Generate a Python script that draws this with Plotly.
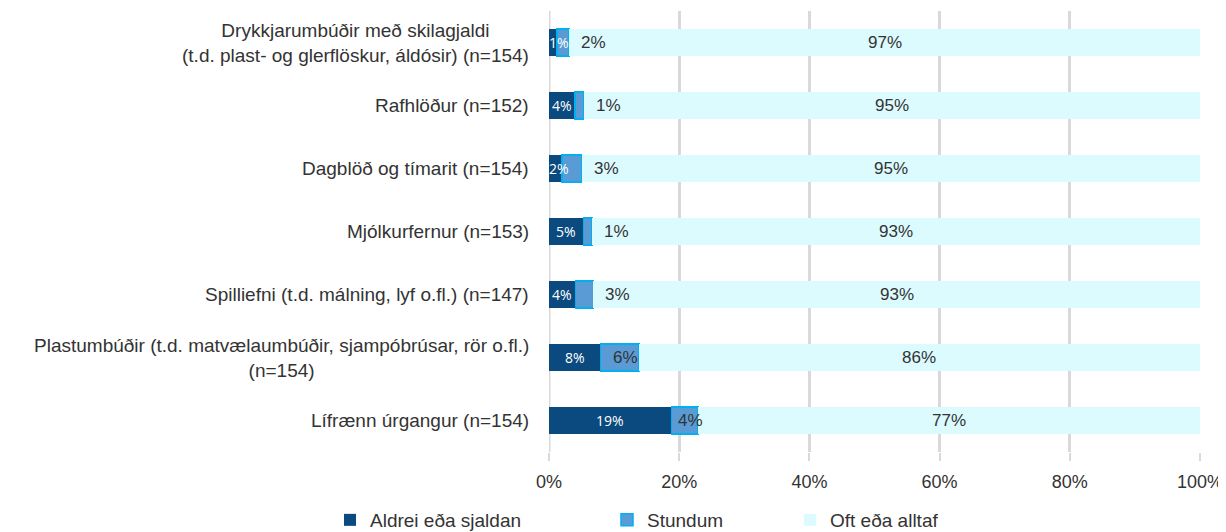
import plotly.graph_objects as go

categories = [
    "Drykkjarumbúðir með skilagjaldi<br>(t.d. plast- og glerflöskur, áldósir) (n=154)",
    "Rafhlöður (n=152)",
    "Dagblöð og tímarit (n=154)",
    "Mjólkurfernur (n=153)",
    "Spilliefni (t.d. málning, lyf o.fl.) (n=147)",
    "Plastumbúðir (t.d. matvælaumbúðir, sjampóbrúsar, rör o.fl.)<br>(n=154)",
    "Lífrænn úrgangur (n=154)",
]
aldrei = [1.2, 4.0, 2.0, 5.3, 4.1, 7.9, 18.8]
stundum = [1.9, 1.3, 3.0, 1.3, 2.7, 5.9, 4.1]
oft = [96.9, 94.7, 95.0, 93.4, 93.2, 86.2, 77.1]
series_names = ["Aldrei eða sjaldan", "Stundum", "Oft eða alltaf"]
tick_vals = [0, 20, 40, 60, 80, 100]
tick_text = ["0%", "20%", "40%", "60%", "80%", "100%"]

NAVY = "#0b4a7e"
MID = "#5b9bd5"
MID_LINE = "#00b0f0"
LIGHT = "#dcfbff"
FONT = "Liberation Sans Narrow, Arial Narrow, Liberation Sans, Arial"
TXT = "#333333"
ycats = list(range(len(categories)))

W, H = 1218, 524

fig = go.Figure()
fig.add_trace(go.Bar(y=ycats, x=aldrei, orientation="h", name=series_names[0],
                     marker=dict(color=NAVY, line=dict(width=0)), width=0.43,
                     legend="legend", showlegend=True))
fig.add_trace(go.Bar(y=ycats, x=stundum, orientation="h", name=series_names[1],
                     marker=dict(color=MID, line=dict(color=MID_LINE, width=1.5)), width=0.43,
                     legend="legend2", showlegend=True))
fig.add_trace(go.Bar(y=ycats, x=oft, orientation="h", name=series_names[2],
                     marker=dict(color=LIGHT, line=dict(width=0)), width=0.43,
                     legend="legend3", showlegend=True))

annotations = []
for i, cat in enumerate(categories):
    annotations.append(dict(x=0, xref="paper", y=i, yref="y", text=cat, xanchor="right",
                            align="center", showarrow=False, xshift=-18,
                            font=dict(family=FONT, size=19, color=TXT)))
    a, s, o = aldrei[i], stundum[i], oft[i]
    annotations.append(dict(x=max(a / 2, 1.6), y=i, text=f"{round(a)}%", showarrow=False,
                            font=dict(family="Open Sans, Liberation Sans", size=14, color="white")))
    if round(s) >= 3 and a + s > 7:
        annotations.append(dict(x=a + s / 2, y=i, text=f"{round(s)}%", showarrow=False, xshift=6,
                                font=dict(family=FONT, size=17, color=TXT)))
    else:
        annotations.append(dict(x=a + s, y=i, text=f"{round(s)}%", showarrow=False, xanchor="left",
                                xshift=10, font=dict(family=FONT, size=17, color=TXT)))
    annotations.append(dict(x=a + s + o / 2, y=i, text=f"{round(o)}%", showarrow=False,
                            font=dict(family=FONT, size=17, color=TXT)))

leg_common = dict(orientation="h", xref="container", yref="container", yanchor="middle",
                  y=1 - 512 / H, xanchor="left", bgcolor="rgba(0,0,0,0)",
                  font=dict(family=FONT, size=19, color=TXT), itemwidth=30)

fig.update_layout(
    width=W, height=H,
    barmode="stack",
    showlegend=True,
    plot_bgcolor="white", paper_bgcolor="white",
    margin=dict(l=541, r=26, t=3, b=80, autoexpand=False),
    xaxis=dict(range=[0, 100], tickvals=tick_vals, ticktext=tick_text,
               showgrid=True, gridcolor="#d9d9d9", gridwidth=3,
               zeroline=False, showline=False,
               ticks="outside", ticklen=8, tickcolor="#d9d9d9", tickwidth=2,
               ticklabelstandoff=5,
               tickfont=dict(family=FONT, size=18, color=TXT), fixedrange=True),
    yaxis=dict(tickvals=ycats, showticklabels=False,
               range=[len(categories) - 0.5, -0.5], showgrid=False, zeroline=False),
    annotations=annotations,
    legend=dict(**leg_common, x=322 / W),
    legend2=dict(**leg_common, x=599 / W),
    legend3=dict(**leg_common, x=782 / W),
    shapes=[dict(type="line", xref="x", yref="paper", x0=0, x1=0, y0=0, y1=1,
                 line=dict(color="#d9d9d9", width=3), layer="below")],
)

fig.write_html("out.html")
